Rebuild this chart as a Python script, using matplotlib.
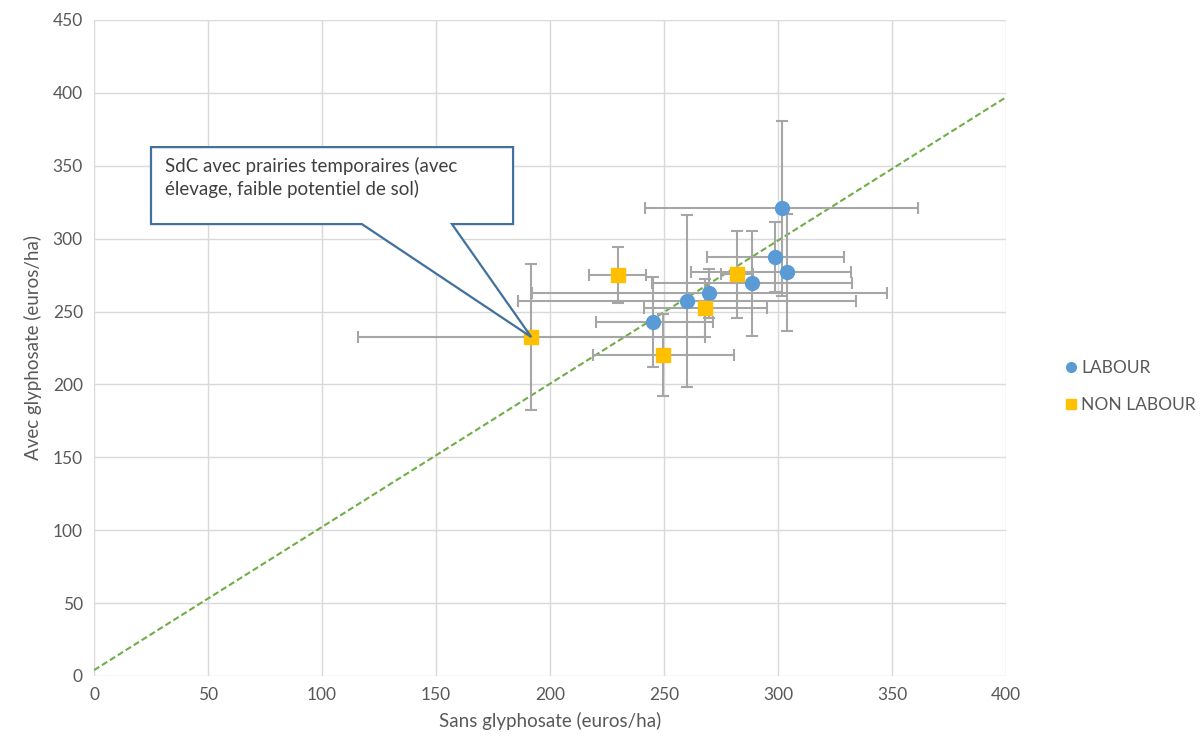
import matplotlib.pyplot as plt
from matplotlib.patches import Polygon
from matplotlib.lines import Line2D

# LABOUR series
labour_x = [301.6, 298.8, 303.8, 288.6, 269.9, 260.0, 245.3]
labour_y = [320.8, 287.6, 276.9, 269.3, 262.5, 257.2, 242.8]
labour_xerr_lo = [60, 30, 42, 44, 78, 74, 25]
labour_xerr_hi = [60, 30, 28, 44, 78, 74, 26]
labour_yerr = [60, 24, 40, 36, 17, 59, 31]

# NON LABOUR series
nonlab_x = [229.8, 281.9, 268.1, 249.7, 191.8]
nonlab_y = [275.0, 275.5, 252.4, 220.2, 232.5]
nonlab_xerr = [12.5, 7, 27, 31, 76]
nonlab_yerr = [19, 30, 20, 28, 50]

# reference line
ref_x = [0, 400]
ref_y = [4, 397]

callout_text = "SdC avec prairies temporaires (avec\nélevage, faible potentiel de sol)"

plt.rcParams['font.family'] = ['Lato', 'DejaVu Sans']

fig = plt.figure(figsize=(12.03, 7.53), dpi=100)
ax = fig.add_axes([94 / 1203, 1 - 676 / 753, (1006 - 94) / 1203, (676 - 20) / 753])

grey = "#A6A6A6"
blue = "#5B9BD5"
orange = "#FFC000"
txt = "#595959"

ax.plot(ref_x, ref_y, color="#70AD47", ls=(0, (3, 1.5)), lw=1.5, zorder=2)

ax.errorbar(labour_x, labour_y, xerr=[labour_xerr_lo, labour_xerr_hi], yerr=labour_yerr,
            fmt="none", ecolor=grey, elinewidth=1.5, capsize=4, capthick=1.5, zorder=3)
ax.errorbar(nonlab_x, nonlab_y, xerr=nonlab_xerr, yerr=nonlab_yerr,
            fmt="none", ecolor=grey, elinewidth=1.5, capsize=4, capthick=1.5, zorder=3)
ax.plot(labour_x, labour_y, "o", color=blue, ms=10, zorder=5)
ax.plot(nonlab_x, nonlab_y, "s", color=orange, ms=10, zorder=5)

# callout box pointing at the NON LABOUR point
tip = (nonlab_x[-1], nonlab_y[-1])
bx0, bx1, by0, by1 = 25, 183.8, 310, 362.8
poly = Polygon([(bx0, by0), (117.5, by0), tip, (157, by0), (bx1, by0), (bx1, by1), (bx0, by1)],
               closed=True, facecolor="white", edgecolor="#41719C", lw=1.6, zorder=6)
ax.add_patch(poly)
ax.text(bx0 + 6, by1 - 7, callout_text, fontsize=13.5, color="#404040", va="top", ha="left",
        linespacing=1.3, zorder=7)

ax.set_xlim(0, 400)
ax.set_ylim(0, 450)
ax.set_xticks(range(0, 401, 50))
ax.set_yticks(range(0, 451, 50))
ax.grid(True, color="#D9D9D9", lw=1)
ax.set_axisbelow(True)
for s in ax.spines.values():
    s.set_visible(False)
ax.tick_params(length=0, colors=txt, labelsize=12.5, pad=8)
ax.set_xlabel("Sans glyphosate (euros/ha)", fontsize=13.5, color=txt, labelpad=6)
ax.set_ylabel("Avec glyphosate (euros/ha)", fontsize=13.5, color=txt, labelpad=8)

handles = [Line2D([], [], ls="none", marker="o", color=blue, ms=7),
           Line2D([], [], ls="none", marker="s", color=orange, ms=7)]
fig.legend(handles, ["LABOUR", "NON LABOUR"], loc="center left", bbox_to_anchor=(0.87, 0.487),
           frameon=False, fontsize=12.5, labelcolor=txt, handletextpad=0.1, labelspacing=1.2,
           handlelength=1.0)

fig.savefig("out.png", dpi=100)
